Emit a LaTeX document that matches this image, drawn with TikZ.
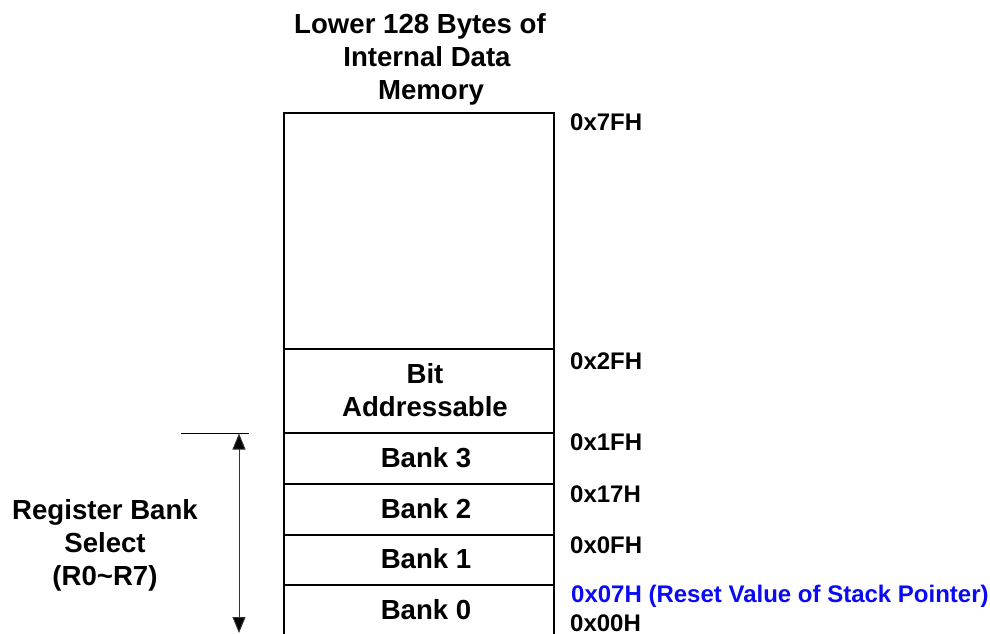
\documentclass[tikz,border=0pt]{standalone}
\usepackage{fontspec}
\setmainfont{Liberation Sans}
\usetikzlibrary{arrows.meta}
\definecolor{addrblue}{RGB}{10,10,245}
\tikzset{
  big/.style={font=\fontsize{27.6}{33}\selectfont\bfseries, inner sep=0pt, align=center},
  addr/.style={font=\fontsize{24}{28}\selectfont\bfseries, inner sep=0pt, anchor=west},
  memline/.style={line width=1.1pt, black},
  dimarrow/.style={line width=1pt, black!80, {Triangle[length=16pt,width=13pt,fill=black]}-{Triangle[length=16pt,width=13pt,fill=black]}},
}
\begin{document}
\begin{tikzpicture}[x=1pt,y=-1pt]
\useasboundingbox (0,0) rectangle (990,633);
\begin{scope}
\clip (0,0) rectangle (990,633);
% memory column
\coordinate (tl) at (284,113);
\coordinate (tr) at (554,113);
\coordinate (bl) at (284,640);
\coordinate (br) at (554,640);
\draw[memline] (bl) -- (tl) -- (tr) -- (br);
\foreach \y/\n in {349/d2F,433/d1F,484/d17,535/d0F,585/d07}{
  \coordinate (\n L) at (284,\y);
  \coordinate (\n R) at (554,\y);
  \draw[memline] (\n L) -- (\n R);
}
% dimension line
\coordinate (ext1) at (181,433);
\coordinate (ext2) at (249,433);
\draw[line width=1pt] (ext1) -- (ext2);
\coordinate (atop) at (239,433.5);
\coordinate (abot) at (239,633);
\draw[dimarrow] (atop) -- (abot);
\end{scope}

% texts
\node[big] (title) at (420,59) {Lower 128 Bytes of\\ \hspace*{14pt}Internal Data\\ \hspace*{22pt}Memory};
\node[big] (bit) at (425,390) {Bit\\Addressable};
\node[big] (b3) at (426,458) {Bank 3};
\node[big] (b2) at (426,509) {Bank 2};
\node[big] (b1) at (426,559) {Bank 1};
\node[big] (b0) at (426,610) {Bank 0};
\node[big] (rbs) at (105,545) {Register Bank\\Select\\(R0\textasciitilde R7)};

\node[addr] (a7F) at (570,122) {0x7FH};
\node[addr] (a2F) at (570,361) {0x2FH};
\node[addr] (a1F) at (570,442) {0x1FH};
\node[addr] (a17) at (570,494) {0x17H};
\node[addr] (a0F) at (570,545) {0x0FH};
\node[addr, text=addrblue] (a07) at (571,596) {0x07H (Reset Value of Stack Pointer)};
\node[addr] (a00) at (570,623) {0x00H};
\end{tikzpicture}
\end{document}
